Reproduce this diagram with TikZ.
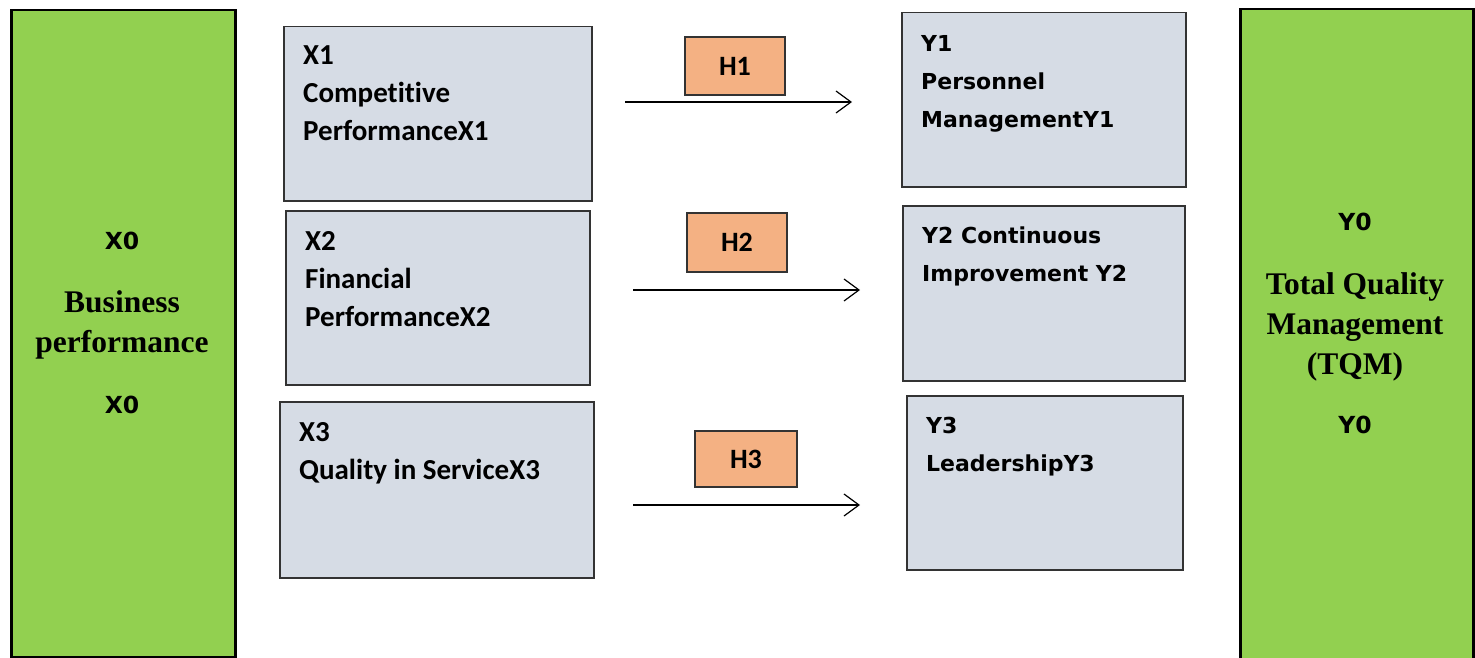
\documentclass[tikz,border=0pt]{standalone}
\usepackage{fontspec}
\setmainfont{Liberation Serif}
\newfontfamily\calfont[Ligatures={NoCommon}]{Carlito}
\newfontfamily\dvfont{DejaVu Sans}
\usetikzlibrary{arrows.meta}
\definecolor{grn}{HTML}{92D050}
\definecolor{boxbg}{HTML}{D6DCE5}
\definecolor{hbg}{HTML}{F4B183}
\begin{document}
\begin{tikzpicture}[x=1pt,y=-1pt,
 greenbox/.style={draw=black, line width=2.5pt, fill=grn, anchor=north west, inner sep=0},
 varbox/.style={draw=black!80, line width=1.5pt, fill=boxbg, anchor=north west, inner sep=0},
 hbox/.style={draw=black!80, line width=1.5pt, fill=hbg, inner sep=0, minimum width=100pt, minimum height=58pt, font=\calfont\bfseries\fontsize{28}{32}\selectfont},
 xtext/.style={anchor=base west, align=left, inner sep=0, font=\calfont\bfseries\fontsize{29}{38}\selectfont},
 ytext/.style={anchor=base west, align=left, inner sep=0, font=\dvfont\bfseries\fontsize{22}{38}\selectfont},
 zlab/.style={font=\dvfont\bfseries\fontsize{23.5}{28}\selectfont, inner sep=0},
 serlab/.style={font=\bfseries\fontsize{31.5}{40}\selectfont, align=center, inner sep=0},
 hyp/.style={line width=1.2pt, -{Straight Barb[length=15pt,width=22pt]}}
]
\useasboundingbox[fill=white] (0,0) rectangle (1475,658);

% green side boxes
\node[greenbox, minimum width=224pt, minimum height=647pt] (x0) at (10,9) {};
\node[greenbox, minimum width=233pt, minimum height=660pt] (y0) at (1239,8) {};

\node[zlab] (x0a) at (122,241) {X0};
\node[serlab] (x0n) at (122,325) {Business\\performance};
\node[zlab] (x0b) at (122,405) {X0};

\node[zlab] (y0a) at (1355,222) {Y0};
\node[serlab] (y0n) at (1355,327) {Total Quality\\Management\\(TQM)};
\node[zlab] (y0b) at (1355,425) {Y0};

% X boxes
\node[varbox, minimum width=308pt, minimum height=174pt] (x1) at (283,26) {};
\node[varbox, minimum width=304pt, minimum height=174pt] (x2) at (285,210) {};
\node[varbox, minimum width=314pt, minimum height=176pt] (x3) at (279,401) {};

% (base anchor = baseline of the last line)
\node[xtext] (x1t) at (303,141) {X1\\Competitive\\PerformanceX1};
\node[xtext] (x2t) at (305,326) {X2\\Financial\\PerformanceX2};
\node[xtext] (x3t) at (299,479) {X3\\Quality in ServiceX3};

% Y boxes
\node[varbox, minimum width=284pt, minimum height=174pt] (y1) at (901,12) {};
\node[varbox, minimum width=282pt, minimum height=175pt] (y2) at (902,205) {};
\node[varbox, minimum width=276pt, minimum height=174pt] (y3) at (906,395) {};

\node[ytext] (y1t) at (921,128) {Y1\\Personnel\\ManagementY1};
\node[ytext] (y2t) at (922,281) {Y2 Continuous\\Improvement Y2};
\node[ytext] (y3t) at (926,471) {Y3\\LeadershipY3};

% hypotheses
\node[hbox] (h1) at (735,66) {H1};
\node[hbox, minimum height=59pt] (h2) at (737,242.5) {H2};
\node[hbox, minimum width=102pt, minimum height=56pt] (h3) at (746,459) {H3};

\coordinate (a1s) at (625,102);
\coordinate (a1e) at (852,102);
\coordinate (a2s) at (633,290);
\coordinate (a2e) at (860,290);
\coordinate (a3s) at (633,505);
\coordinate (a3e) at (860,505);
\draw[hyp] (a1s) -- (a1e);
\draw[hyp] (a2s) -- (a2e);
\draw[hyp] (a3s) -- (a3e);
\end{tikzpicture}
\end{document}
